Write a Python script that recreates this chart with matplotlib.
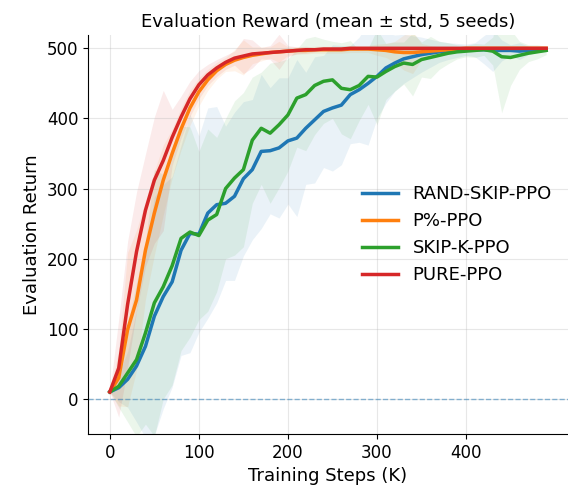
import matplotlib.pyplot as plt
import numpy as np

# training steps (K)
steps = np.arange(0, 500, 10)

rand_skip_mean = [10, 16, 28, 47, 75, 118, 146, 167, 212, 236,
                  235, 265, 277, 279, 289, 314, 327, 353, 354, 358,
                  368, 372, 386, 398, 410, 415, 419, 434, 441, 450,
                  460, 472, 479, 485, 488, 491, 493, 495, 496, 497,
                  498, 498, 498, 497, 497, 497, 496, 497, 498, 498]
rand_skip_std = [0, 20, 40, 80, 130, 170, 160, 150, 150, 170,
                 140, 150, 140, 110, 120, 110, 100, 110, 90, 100,
                 90, 112, 80, 90, 80, 90, 85, 70, 75, 88,
                 60, 50, 40, 35, 30, 25, 20, 15, 12, 10,
                 8, 10, 20, 30, 15, 8, 12, 6, 4, 3]

pct_mean = [10, 30, 99, 141, 212, 265, 312, 350, 385, 415,
            438, 455, 468, 477, 483, 487, 490, 492, 494, 495,
            496, 497, 497, 498, 498, 498, 498, 499, 499, 499,
            498, 497, 495, 494, 494, 495, 496, 497, 498, 499,
            500, 500, 500, 500, 500, 500, 500, 500, 500, 500]
pct_std = [0, 40, 110, 100, 70, 60, 50, 35, 30, 25,
           20, 15, 12, 10, 15, 25, 12, 10, 8, 15,
           6, 5, 5, 5, 5, 5, 5, 5, 5, 5,
           8, 10, 15, 25, 30, 12, 8, 5, 4, 3,
           2, 2, 2, 2, 2, 2, 2, 2, 2, 2]

skipk_mean = [10, 18, 37, 56, 94, 137, 160, 190, 229, 238,
              233, 255, 263, 300, 315, 327, 369, 386, 379, 391,
              405, 429, 434, 447, 453, 455, 443, 441, 447, 460,
              459, 467, 474, 479, 477, 484, 487, 490, 493, 495,
              496, 497, 498, 496, 488, 487, 490, 493, 495, 497]
skipk_std = [0, 30, 70, 110, 130, 190, 160, 170, 160, 150,
             120, 130, 110, 100, 110, 110, 90, 80, 100, 90,
             80, 70, 80, 70, 60, 55, 65, 70, 50, 40,
             68, 40, 35, 30, 45, 25, 30, 20, 15, 10,
             8, 10, 8, 20, 80, 40, 20, 12, 10, 6]

pure_mean = [10, 44, 135, 210, 269, 312, 340, 373, 402, 428,
             448, 462, 472, 480, 486, 489, 492, 493, 494, 495,
             496, 497, 498, 498, 499, 499, 499, 500, 500, 500,
             500, 500, 500, 500, 500, 500, 500, 500, 500, 500,
             500, 500, 500, 500, 500, 500, 500, 500, 500, 500]
pure_std = [0, 70, 90, 85, 80, 90, 100, 40, 30, 25,
            20, 15, 12, 10, 10, 25, 20, 8, 10, 25,
            8, 5, 5, 3, 3, 3, 3, 3, 3, 3,
            3, 3, 3, 3, 3, 3, 3, 3, 3, 3,
            3, 3, 3, 3, 3, 3, 3, 3, 3, 3]

labels = ['RAND-SKIP-PPO', 'P%-PPO', 'SKIP-K-PPO', 'PURE-PPO']
means = [rand_skip_mean, pct_mean, skipk_mean, pure_mean]
stds = [rand_skip_std, pct_std, skipk_std, pure_std]
colors = ['#1f77b4', '#ff7f0e', '#2ca02c', '#d62728']

fig = plt.figure(figsize=(5.68, 4.94), dpi=100)
ax = fig.add_axes([88 / 568, 1 - 434 / 494, 480 / 568, (434 - 35) / 494])

for lab, m, s, c in zip(labels, means, stds, colors):
    m = np.array(m)
    s = np.array(s)
    ax.plot(steps, m, color=c, lw=2.5, label=lab)
    ax.fill_between(steps, m - s, m + s, color=c, alpha=0.09, lw=0)

ax.axhline(0, color='#1f77b4', ls='--', lw=1, alpha=0.5)

ax.set_xlim(-24.5, 514.5)
ax.set_ylim(-50, 519)
ax.set_xticks([0, 100, 200, 300, 400])
ax.grid(alpha=0.3)
ax.spines['top'].set_visible(False)
ax.spines['right'].set_visible(False)
ax.tick_params(labelsize=12)

ax.set_xlabel('Training Steps (K)', fontsize=13)
ax.set_ylabel('Evaluation Return', fontsize=13)
ax.set_title('Evaluation Reward (mean ± std, 5 seeds)', fontsize=13)
ax.legend(loc='center right', frameon=False, fontsize=13)

plt.savefig('out.png', dpi=100)
